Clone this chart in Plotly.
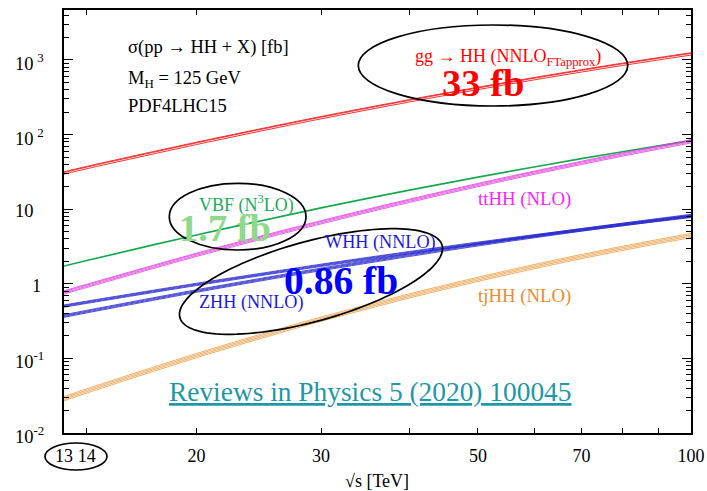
import numpy as np
import plotly.graph_objects as go

# Centre-of-mass energy grid [TeV]
SQRT_S = [13, 14, 20, 27, 30, 40, 50, 60, 70, 80, 90, 100]

# Double-Higgs production cross sections [fb]
GGF = [31.05, 36.69, 77.3, 139.9, 171.0, 288.0, 422.0, 569.0, 725.0, 888.0, 1054.0, 1224.0]
VBF = [1.73, 2.05, 4.51, 8.40, 10.4, 18.0, 26.9, 36.8, 47.6, 58.9, 70.7, 82.8]
TTHH = [0.775, 0.949, 2.47, 5.24, 6.75, 13.1, 21.3, 31.1, 42.2, 54.6, 67.9, 82.1]
WHH = [0.503, 0.566, 0.981, 1.52, 1.77, 2.62, 3.50, 4.40, 5.30, 6.21, 7.11, 8.00]
ZHH = [0.370, 0.424, 0.800, 1.32, 1.56, 2.42, 3.35, 4.30, 5.28, 6.25, 7.23, 8.20]
TJHH = [0.0289, 0.0367, 0.109, 0.254, 0.336, 0.689, 1.15, 1.70, 2.32, 2.99, 3.70, 4.44]

# Relative offsets of the lines drawn for each uncertainty band
GGF_BAND = [0.022, 0.0, -0.05]
VBF_BAND = [0.0]
TTHH_BAND = [0.04, 0.012, -0.025, -0.06]
WHH_BAND = [0.035, 0.012, -0.012, -0.035]
ZHH_BAND = [0.04, 0.013, -0.013, -0.04]
TJHH_BAND = [0.065, 0.022, -0.022, -0.065]

# Axis ticks
X_TICKS = [13, 14, 20, 30, 40, 50, 60, 70, 80, 90, 100]
X_TICKTEXT = ["13", "14", "20", "30", "", "50", "", "70", "", "", "100"]
Y_DECADES = [-2, -1, 0, 1, 2, 3]
Y_LABELS = ["10<sup>-2</sup>", "10<sup>-1</sup>", "1", "10", "10\u2009<sup>2</sup>", "10\u2009<sup>3</sup>"]

SERIF = "Liberation Serif, Times New Roman, serif"

# Plot-area geometry in pixels (used for decorations placed in paper coords)
W, H = 707, 491
ML, MR, MT, MB = 64, 16, 10, 58
PW, PH = W - ML - MR, H - MT - MB


def px(xp):
    return (xp - ML) / PW


def py(yp):
    return (H - MB - yp) / PH


fig = go.Figure()

processes = [
    (GGF, GGF_BAND, "#f01c1c", 0.9),
    (VBF, VBF_BAND, "#18a850", 1.7),
    (TTHH, TTHH_BAND, "#e03ce0", 0.8),
    (WHH, WHH_BAND, "#2626cc", 0.8),
    (ZHH, ZHH_BAND, "#2626cc", 0.8),
    (TJHH, TJHH_BAND, "#ee9a40", 0.8),
]
for values, band, color, width in processes:
    vals = np.array(values)
    for d in band:
        fig.add_trace(go.Scatter(
            x=SQRT_S, y=vals * (1 + d), mode="lines",
            line=dict(color=color, width=width, shape="spline", smoothing=1.0),
            hoverinfo="skip", showlegend=False,
        ))

annotations = []


def note(text, x, y, size, color="black", bold=False, xanchor="center", xref="paper", yref="paper"):
    if bold:
        text = "<b>" + text + "</b>"
    annotations.append(dict(
        text=text, x=x, y=y, xref=xref, yref=yref, xanchor=xanchor, yanchor="middle",
        showarrow=False, font=dict(family=SERIF, size=size, color=color),
    ))


# Header text
note("σ(pp → HH + X) [fb]", px(126), py(47), 18.5, xanchor="left")
note("M<sub>H</sub> = 125 GeV", px(126), py(79), 18.5, xanchor="left")
note("PDF4LHC15", px(126), py(106), 18.5, xanchor="left")

# Process labels
note("gg → HH (NNLO<sub>FTapprox</sub>)", px(508), py(57), 18, "#ff0000")
note("33 fb", px(483), py(83), 38.5, "#ff0000", bold=True)
note("VBF (N<sup>3</sup>LO)", px(246), py(204), 18, "#22aa55")
note("1.7 fb", px(225), py(228), 38.5, "#8fd88c", bold=True)
note("ttHH (NLO)", px(524), py(199), 18.8, "#ff22ff")
note("WHH (NNLO)", px(380), py(242), 18.2, "#1a1ae0")
note("0.86 fb", px(341), py(281), 39.5, "#0000ff", bold=True)
note("ZHH (NNLO)", px(251), py(302), 18.2, "#1a1ae0")
note("tjHH (NLO)", px(524), py(296), 18.8, "#ee8a2a")

# Reference
note("<u>Reviews in Physics 5 (2020) 100045</u>", px(369.5), py(392), 27.4, "#1f97a6")

# Axis title
note("√s [TeV]", px(377), py(481), 18)

# Y tick labels
for dec, lab in zip(Y_DECADES, Y_LABELS):
    xl = 30 if lab == "1" else 13
    annotations.append(dict(
        text=lab, x=px(xl), y=dec, xref="paper", yref="y", xanchor="left", yanchor="middle",
        yshift=-2, showarrow=False, font=dict(family=SERIF, size=18.5, color="black"),
    ))

shapes = []
ell_line = dict(color="black", width=1.7)
# Axis-aligned ellipses
for (xa, xb, ya, yb) in [(358.3, 627.7, 25, 106), (169.3, 306, 183.3, 250), (45, 107, 443, 470)]:
    shapes.append(dict(type="circle", xref="paper", yref="paper",
                       x0=px(xa), x1=px(xb), y0=py(yb), y1=py(ya), line=ell_line))

# Tilted ellipse around the WHH/ZHH labels
cx, cy, a, b, th = 311, 281.5, 136, 40, np.radians(15.4)
t = np.linspace(0, 2 * np.pi, 121)
ex = cx + a * np.cos(t) * np.cos(th) + b * np.sin(t) * np.sin(th)
ey = cy - a * np.cos(t) * np.sin(th) + b * np.sin(t) * np.cos(th)
path = "M " + " L ".join(f"{px(u):.5f},{py(v):.5f}" for u, v in zip(ex, ey)) + " Z"
shapes.append(dict(type="path", xref="paper", yref="paper", path=path, line=ell_line))

minor_y = [k * 10.0 ** n for n in range(-2, 4) for k in range(2, 10)]

fig.update_layout(
    width=W, height=H,
    margin=dict(l=ML, r=MR, t=MT, b=MB, autoexpand=False),
    paper_bgcolor="white", plot_bgcolor="white",
    annotations=annotations, shapes=shapes,
    xaxis=dict(
        type="log", range=[np.log10(13), np.log10(100)], automargin=False,
        tickmode="array", tickvals=X_TICKS, ticktext=X_TICKTEXT,
        ticks="inside", ticklen=5, tickwidth=1.2, tickcolor="black",
        showline=True, linewidth=1.5, linecolor="black", mirror="ticks",
        showgrid=False, zeroline=False, ticklabelstandoff=6,
        tickfont=dict(family=SERIF, size=18, color="black"),
    ),
    yaxis=dict(
        type="log", range=[-2, 3.67], automargin=False,
        tickmode="array", tickvals=[10.0 ** d for d in Y_DECADES], ticktext=[""] * 6,
        ticks="inside", ticklen=9, tickwidth=1.2, tickcolor="black",
        minor=dict(tickmode="array", tickvals=minor_y, ticks="inside", ticklen=5,
                   tickwidth=1.0, tickcolor="black", showgrid=False),
        showline=True, linewidth=1.5, linecolor="black", mirror="ticks",
        showgrid=False, zeroline=False,
    ),
)

fig.write_html("out.html")
